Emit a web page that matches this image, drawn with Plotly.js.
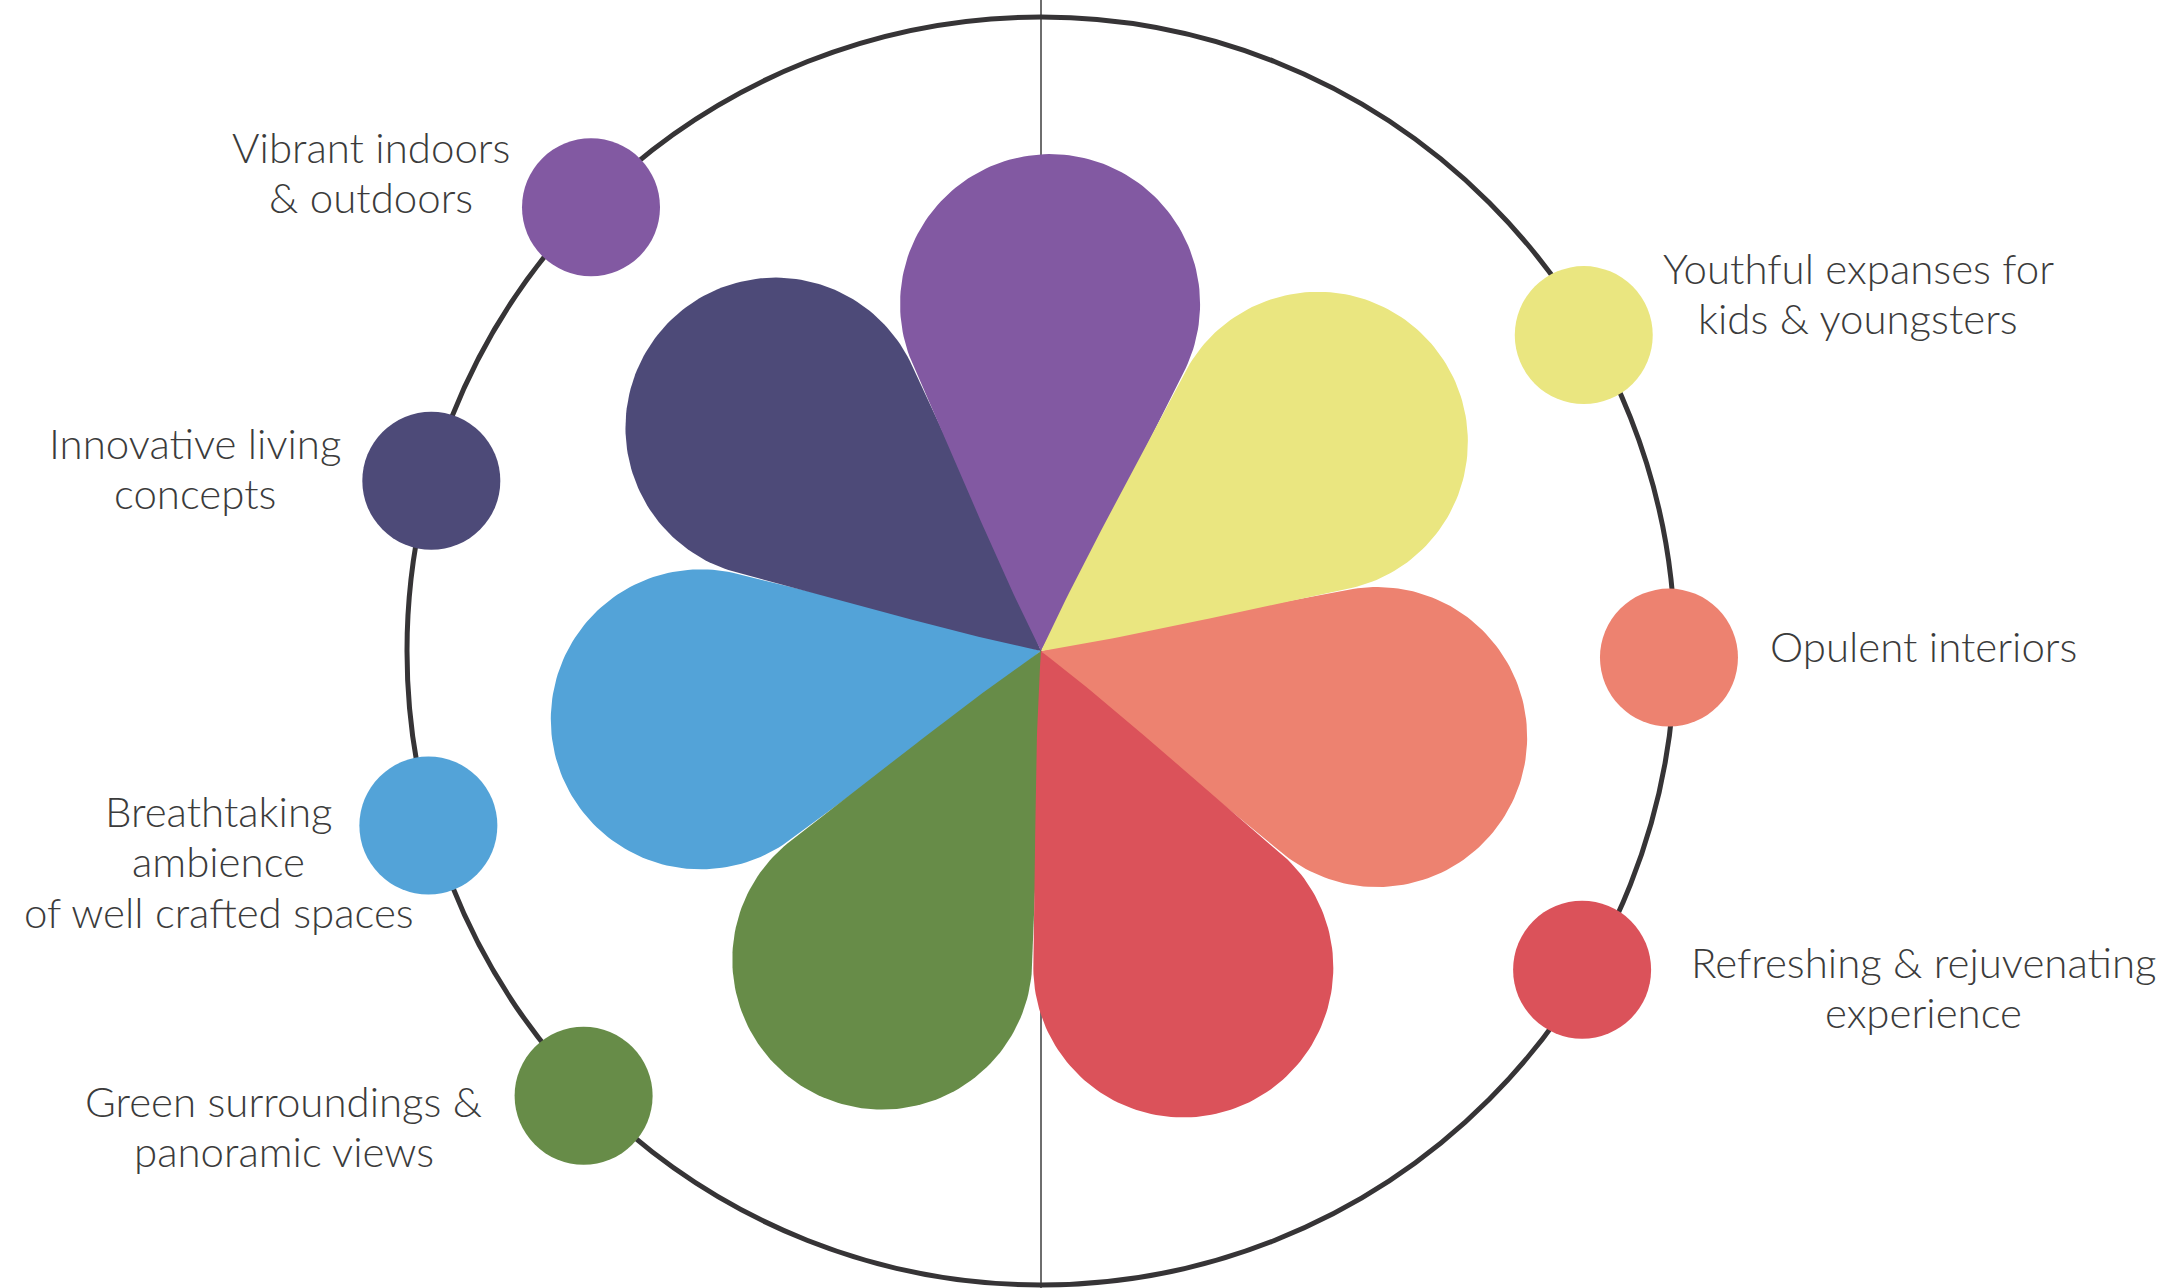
<!DOCTYPE html>
<html>
<head>
<meta charset="utf-8">
<script src="https://cdn.plot.ly/plotly-3.0.1.min.js"></script>
<style>
  html, body { margin: 0; padding: 0; background: #ffffff; }
  #chart { width: 2183px; height: 1288px; }
</style>
</head>
<body>
<div id="chart"></div>
<script>
// ---------- data ----------
const categories = [
  "Vibrant indoors & outdoors",
  "Youthful expanses for kids & youngsters",
  "Opulent interiors",
  "Refreshing & rejuvenating experience",
  "Green surroundings & panoramic views",
  "Breathtaking ambience of well crafted spaces",
  "Innovative living concepts"
];
const labelLines = [
  ["Vibrant indoors", "& outdoors"],
  ["Youthful expanses for", "kids & youngsters"],
  ["Opulent interiors"],
  ["Refreshing & rejuvenating", "experience"],
  ["Green surroundings &", "panoramic views"],
  ["Breathtaking", "ambience", "of well crafted spaces"],
  ["Innovative living", "concepts"]
];
const colors = ["#8259a2", "#eae680", "#ed8270", "#db525a", "#678c48", "#53a3d8", "#4d4a78"];

// ---------- layout config (positions / styles) ----------
const W = 2183, H = 1288;
const CX = 1041, CY = 651;            // flower centre in page pixels
const ringR = 634;
const petal = { start: 88.5, d: 347, r: 150, tipAngle: 28, handle: 110 };
const drawOrder = [5, 2, 6, 4, 0, 3, 1];
const dotAngles = [135.4, 30.2, -0.6, -30.5, 224.2, 195.9, 164.4];
const dotDist = [632, 628, 628, 628, 638, 637, 633];
const dotDiam = 138;
const labelAnchor = [[371,163],[1858,284],[1923,662],[1923,978],[283.5,1117],[218.5,827],[194.5,459]];
const lineGap = 50.5;
const fontSize = 42;
const textColor = "#3b3b3b";

function petalShape(angleDeg) {
  const d = petal.d, r = petal.r;
  const alpha = Math.asin(r / d);
  const tp = Math.sqrt(d * d - r * r);
  const P = [tp * Math.cos(alpha), tp * Math.sin(alpha)];
  const b0 = petal.tipAngle * Math.PI / 180;
  const B1 = [petal.handle * Math.cos(b0), petal.handle * Math.sin(b0)];
  const B2 = [P[0] - petal.handle * Math.cos(alpha), P[1] - petal.handle * Math.sin(alpha)];
  const pts = [];
  const N = 40;
  for (let k = 0; k <= N; k++) {
    const t = k / N, mt = 1 - t;
    const u = 3 * mt * mt * t * B1[0] + 3 * mt * t * t * B2[0] + t * t * t * P[0];
    const v = 3 * mt * mt * t * B1[1] + 3 * mt * t * t * B2[1] + t * t * t * P[1];
    pts.push([u, v]);
  }
  const a0 = Math.atan2(P[1], P[0] - d);
  const M = 120;
  for (let k = 1; k <= M; k++) {
    const a = a0 - (2 * a0) * k / M;
    pts.push([d + r * Math.cos(a), r * Math.sin(a)]);
  }
  for (let k = N - 1; k >= 0; k--) {
    pts.push([pts[k][0], -pts[k][1]]);
  }
  const th = angleDeg * Math.PI / 180;
  const c = Math.cos(th), s = Math.sin(th);
  return {
    x: pts.map(p => p[0] * c - p[1] * s),
    y: pts.map(p => p[0] * s + p[1] * c)
  };
}

const traces = [];
const step = -360 / categories.length;
drawOrder.forEach(i => {
  const shp = petalShape(petal.start + step * i);
  traces.push({
    type: "scatter", mode: "lines", x: shp.x, y: shp.y,
    fill: "toself", fillcolor: colors[i],
    line: { width: 0, color: colors[i] },
    hoverinfo: "text", text: categories[i], name: categories[i]
  });
});

traces.push({
  type: "scatter", mode: "markers",
  x: dotAngles.map((a, i) => dotDist[i] * Math.cos(a * Math.PI / 180)),
  y: dotAngles.map((a, i) => dotDist[i] * Math.sin(a * Math.PI / 180)),
  marker: { size: dotDiam, color: colors, line: { width: 0 } },
  text: categories, hoverinfo: "text"
});

const annotations = [];
labelLines.forEach((lines, i) => {
  lines.forEach((ln, j) => {
    const baseline = labelAnchor[i][1] + j * lineGap;
    annotations.push({
      x: labelAnchor[i][0] - CX,
      y: CY - (baseline - 0.39 * fontSize),
      xref: "x", yref: "y",
      text: ln, showarrow: false,
      xanchor: "center", yanchor: "middle",
      font: { family: "Lato, 'Open Sans', sans-serif", size: fontSize, color: textColor, weight: 300 }
    });
  });
});

const layout = {
  width: W, height: H,
  margin: { l: 0, r: 0, t: 0, b: 0, pad: 0 },
  paper_bgcolor: "#ffffff", plot_bgcolor: "#ffffff",
  showlegend: false,
  xaxis: { range: [-CX, W - CX], visible: false, fixedrange: true },
  yaxis: { range: [CY - H, CY], visible: false, fixedrange: true },
  shapes: [
    { type: "line", xref: "x", yref: "y", x0: 0, x1: 0, y0: CY - H, y1: CY,
      line: { color: "#6e6e6e", width: 2 }, layer: "below" },
    { type: "circle", xref: "x", yref: "y", x0: -ringR, x1: ringR, y0: -ringR, y1: ringR,
      line: { color: "#363436", width: 5 }, layer: "below" }
  ],
  annotations: annotations
};

Plotly.newPlot("chart", traces, layout, { displayModeBar: false, staticPlot: true });
</script>
</body>
</html>
